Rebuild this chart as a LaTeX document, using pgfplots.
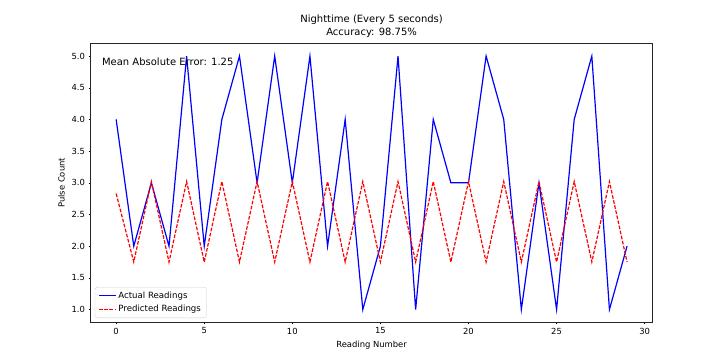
\documentclass[border=0pt]{standalone}
\usepackage{pgfplots}
\pgfplotsset{compat=1.18}
\usepackage{fontspec}
\setmainfont{DejaVu Sans}
\begin{document}
\begin{tikzpicture}[x=1pt,y=1pt]
\useasboundingbox (0,0) rectangle (725,362);
\begin{axis}[
  at={(90.6pt,39.8pt)}, anchor=south west,
  width=562pt, height=278.8pt, scale only axis,
  xmin=-1.45, xmax=30.45, ymin=0.8, ymax=5.2,
  xtick={0,5,10,15,20,25,30},
  ytick={1,1.5,2,2.5,3,3.5,4,4.5,5},
  yticklabel style={/pgf/number format/.cd,fixed,fixed zerofill,precision=1},
  /pgf/number format/assume math mode=true,
  tick align=outside, major tick length=2.1pt,
  tick style={black, line width=0.5pt},
  axis line style={black!85, line width=0.5pt},
  tick label style={font=\fontsize{8.4}{10}\selectfont},
  label style={font=\fontsize{8.4}{10}\selectfont},
  xtick pos=bottom, ytick pos=left,
  xlabel={Reading Number}, ylabel={Pulse Count},
  title={Nighttime (Every 5 seconds)\\Accuracy: 98.75\%},
  title style={font=\fontsize{10}{13}\selectfont, align=center, inner sep=0pt, yshift=-0.5pt},
  legend style={at={(0,0)}, anchor=south west, xshift=4.2pt, yshift=4.2pt,
    draw=black!20, rounded corners=1.5pt, fill=white,
    font=\fontsize{8.6}{10}\selectfont, inner xsep=3.4pt, inner ysep=2.5pt, row sep=1.5pt},
  legend cell align=left,
  legend image code/.code={\draw[#1] (0pt,0pt) -- (16.8pt,0pt);},
]
\addplot[blue, line width=1.2pt] coordinates {
(0,4)(1,2)(2,3)(3,2)(4,5)(5,2)(6,4)(7,5)(8,3)(9,5)(10,3)(11,5)(12,2)(13,4)(14,1)
(15,2)(16,5)(17,1)(18,4)(19,3)(20,3)(21,5)(22,4)(23,1)(24,3)(25,1)(26,4)(27,5)(28,1)(29,2)};
\addlegendentry{Actual Readings}
\addplot[red, line width=1.2pt, dash pattern=on 3.6pt off 1.6pt] coordinates {
(0,2.83)(1,1.75)(2,3.02)(3,1.75)(4,3.02)(5,1.75)(6,3.02)(7,1.75)(8,3.02)(9,1.75)
(10,3.02)(11,1.75)(12,3.02)(13,1.75)(14,3.02)(15,1.75)(16,3.02)(17,1.75)(18,3.02)(19,1.75)
(20,3.02)(21,1.75)(22,3.02)(23,1.75)(24,3.02)(25,1.75)(26,3.02)(27,1.75)(28,3.02)(29,1.75)};
\addlegendentry{Predicted Readings}
\node[anchor=north west, inner sep=0pt, font=\fontsize{10}{12}\selectfont] at (rel axis cs:0.02,0.95) {Mean Absolute Error: 1.25};
\end{axis}
\end{tikzpicture}
\end{document}
